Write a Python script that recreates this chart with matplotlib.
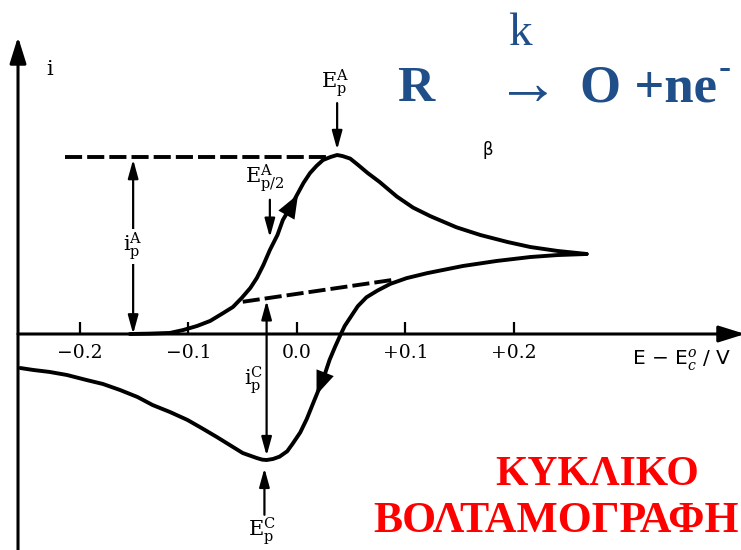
import matplotlib
matplotlib.use('Agg')
import matplotlib.pyplot as plt

# cyclic voltammogram, anodic sweep (E in V, current normalised to the anodic peak)
fwd_E = [-0.154, -0.136, -0.117, -0.105, -0.092, -0.080, -0.068, -0.059, -0.051,
         -0.043, -0.037, -0.031, -0.025, -0.018, -0.013, -0.006, 0.000, 0.006,
         0.012, 0.018, 0.024, 0.031, 0.037, 0.042, 0.049, 0.056, 0.065, 0.076,
         0.092, 0.107, 0.123, 0.147, 0.169, 0.194, 0.215, 0.240, 0.267]
fwd_i = [0.000, 0.002, 0.006, 0.022, 0.045, 0.073, 0.117, 0.151, 0.201,
         0.257, 0.313, 0.385, 0.469, 0.553, 0.637, 0.709, 0.777, 0.844,
         0.899, 0.939, 0.972, 0.989, 1.000, 0.994, 0.980, 0.946, 0.900, 0.850,
         0.768, 0.706, 0.658, 0.596, 0.553, 0.514, 0.486, 0.464, 0.447]

# return (cathodic) sweep
rev_E = [0.267, 0.240, 0.215, 0.184, 0.153, 0.120, 0.101, 0.086, 0.074, 0.064,
         0.056, 0.050, 0.044, 0.040, 0.035, 0.030, 0.026, 0.021, 0.015, 0.009,
         0.003, -0.004, -0.009, -0.016, -0.022, -0.028, -0.032, -0.037, -0.050,
         -0.062, -0.074, -0.088, -0.101, -0.117, -0.133, -0.147, -0.163, -0.179,
         -0.194, -0.212, -0.228, -0.243, -0.255]
rev_i = [0.447, 0.441, 0.430, 0.408, 0.380, 0.340, 0.312, 0.280, 0.242, 0.205,
         0.155, 0.100, 0.045, -0.006, -0.073, -0.145, -0.218, -0.296, -0.385, -0.475,
         -0.550, -0.613, -0.655, -0.685, -0.698, -0.704, -0.702, -0.693, -0.665,
         -0.620, -0.575, -0.525, -0.480, -0.436, -0.397, -0.352, -0.313, -0.279,
         -0.257, -0.229, -0.212, -0.201, -0.190]

# baselines used to measure the peak currents
peak_base_E = [-0.214, 0.030]
peak_base_i = [0.989, 0.989]
cat_base_E = [-0.050, 0.088]
cat_base_i = [0.180, 0.302]

# characteristic points
Ep_A = 0.037
Ep_C = -0.030
Ep2_A = -0.025
ipA_E = -0.151
ipC_E = -0.028
ipC_top = 0.186

tick_pos = [-0.2, -0.1, 0.0, 0.1, 0.2]
tick_lbl = ['\u22120.2', '\u22120.1', '0.0', '+0.1', '+0.2']

plt.rcParams['mathtext.fontset'] = 'dejavuserif'

fig = plt.figure(figsize=(7.41, 5.5), dpi=100)
ax = fig.add_axes([0, 0, 1, 1])
ax.set_xlim(-0.2737, 0.4092)
ax.set_ylim(-1.2067, 1.8659)

for s in ax.spines.values():
    s.set_visible(False)
ax.spines['bottom'].set_position(('data', 0))
ax.set_yticks([])
ax.set_xticks(tick_pos)
ax.set_xticklabels(tick_lbl, fontfamily='DejaVu Serif', fontsize=13.5)
ax.tick_params(axis='x', direction='in', length=8.5, width=1.6, pad=7, colors='black')

# axes drawn as arrows
y_axis_E = -0.2571
ax_arrow = dict(arrowstyle='-|>,head_length=0.8,head_width=0.25', color='black',
                lw=2.2, mutation_scale=20, shrinkA=0, shrinkB=0)
ax.annotate('', xy=(y_axis_E, 1.66), xytext=(y_axis_E, -1.25), arrowprops=ax_arrow,
            annotation_clip=False)
ax.annotate('', xy=(0.413, 0.0), xytext=(y_axis_E, 0.0), arrowprops=ax_arrow,
            annotation_clip=False)

# the voltammogram itself
line_kw = dict(color='black', lw=2.8, solid_capstyle='round', solid_joinstyle='round')
ax.plot(fwd_E, fwd_i, **line_kw)
ax.plot(rev_E, rev_i, **line_kw)

ax.plot(peak_base_E, peak_base_i, color='black', lw=2.8, linestyle=(0, (4.4, 1.3)))
ax.plot(cat_base_E, cat_base_i, color='black', lw=2.8, linestyle=(0, (4.4, 1.3)))

# sweep direction arrows on the curve
curve_arrow = dict(arrowstyle='-|>,head_length=0.9,head_width=0.35', color='black',
                   lw=0, mutation_scale=19, shrinkA=0, shrinkB=0)
ax.annotate('', xy=(0.001, 0.78), xytext=(-0.012, 0.64), arrowprops=curve_arrow)
ax.annotate('', xy=(0.018, -0.34), xytext=(0.027, -0.20), arrowprops=curve_arrow)

# peak current markers
dbl = dict(arrowstyle='<|-|>,head_length=0.8,head_width=0.22', color='black',
           lw=1.6, mutation_scale=14, shrinkA=0, shrinkB=0)
ax.annotate('', xy=(ipA_E, 0.0), xytext=(ipA_E, 0.975), arrowprops=dbl)
ax.annotate('', xy=(ipC_E, -0.68), xytext=(ipC_E, ipC_top), arrowprops=dbl)

one = dict(arrowstyle='-|>,head_length=0.8,head_width=0.22', color='black',
           lw=1.6, mutation_scale=14, shrinkA=0, shrinkB=0)
ax.annotate('', xy=(Ep_A, 1.03), xytext=(Ep_A, 1.29), arrowprops=one)
ax.annotate('', xy=(Ep2_A, 0.54), xytext=(Ep2_A, 0.75), arrowprops=one)
ax.annotate('', xy=(Ep_C, -0.75), xytext=(Ep_C, -1.01), arrowprops=one)

lab = dict(fontsize=15, color='black', ha='center', va='center')
ax.text(Ep_A - 0.002, 1.40, r'$\mathrm{E}_{\mathrm{p}}^{\mathrm{A}}$', **lab)
ax.text(-0.030, 0.87, r'$\mathrm{E}_{\mathrm{p/2}}^{\mathrm{A}}$', **lab)
ax.text(ipA_E, 0.49, r'$\mathrm{i}_{\mathrm{p}}^{\mathrm{A}}$',
        bbox=dict(facecolor='white', edgecolor='none', pad=1), **lab)
ax.text(-0.040, -0.26, r'$\mathrm{i}_{\mathrm{p}}^{\mathrm{C}}$', **lab)
ax.text(Ep_C - 0.002, -1.10, r'$\mathrm{E}_{\mathrm{p}}^{\mathrm{C}}$', **lab)

ax.text(-0.228, 1.475, 'i', fontfamily='DejaVu Serif', fontsize=15, ha='center', va='center')
ax.text(0.176, 1.03, '\u03b2', fontfamily='DejaVu Sans', fontsize=12, ha='center', va='center')
ax.text(0.309, -0.145, r'E $-$ E$_{c}^{o}$ / V', fontfamily='DejaVu Sans', fontsize=14.5,
        ha='left', va='center')

# reaction scheme
blue = '#1f4e89'
ax.text(0.2055, 1.68, 'k', fontfamily='Liberation Serif', fontsize=34, color=blue,
        ha='center', va='center')
ax.text(0.109, 1.37, 'R', fontfamily='Liberation Serif', fontweight='bold', fontsize=37,
        color=blue, ha='center', va='center')
ax.text(0.213, 1.37, '\u2192', family=['Liberation Serif', 'DejaVu Serif'], fontsize=46,
        color=blue, ha='center', va='center')
ax.text(0.261, 1.37, 'O +ne', fontfamily='Liberation Serif', fontweight='bold', fontsize=38,
        color=blue, ha='left', va='center')
ax.text(0.394, 1.475, '-', fontfamily='Liberation Serif', fontweight='bold', fontsize=26,
        color=blue, ha='center', va='center')

# title in red
red = '#ff0000'
ax.text(0.277, -0.785, '\u039a\u03a5\u039a\u039b\u0399\u039a\u039f', fontfamily='Liberation Serif',
        fontweight='bold', fontsize=30, color=red, ha='center', va='center')
ax.text(0.070, -1.045, '\u0392\u039f\u039b\u03a4\u0391\u039c\u039f\u0393\u03a1\u0391\u03a6\u0397',
        fontfamily='Liberation Serif', fontweight='bold', fontsize=31.5, color=red,
        ha='left', va='center')

fig.savefig('out.png', dpi=100, facecolor='white')
